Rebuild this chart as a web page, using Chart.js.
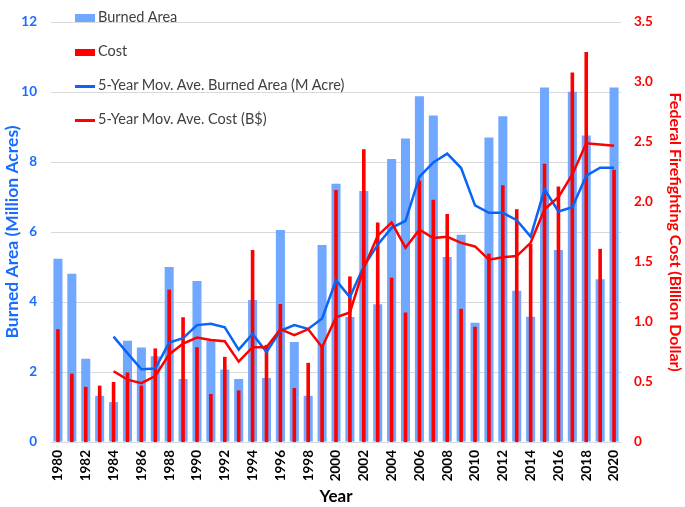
<!DOCTYPE html>
<html lang="en">
<head>
    <meta charset="UTF-8">
    <title>Burned Area and Federal Firefighting Cost</title>
    <style>
        body {
            margin: 0;
            padding: 0;
            background: white;
            font-family: Lato, "Open Sans", sans-serif;
        }

        .wrap {
            position: relative;
            width: 685px;
            height: 507px;
        }

        #legend {
            position: absolute;
            left: 75px;
            top: 0;
            color: #404040;
            font-size: 14.5px;
        }

        .item {
            position: absolute;
            left: 0;
            white-space: nowrap;
            height: 20px;
            line-height: 20px;
        }

        .swatch {
            display: inline-block;
            width: 20px;
            vertical-align: middle;
            margin-right: 3px;
        }
    </style>
</head>
<body>
    <div class="wrap">
        <canvas id="fireChart" width="685" height="507"></canvas>
        <div id="legend">
            <div class="item" style="top:7px"><span class="swatch" style="height:8px;background:#70a8ff"></span>Burned Area</div>
            <div class="item" style="top:41px"><span class="swatch" style="height:7px;background:#ff0000"></span>Cost</div>
            <div class="item" style="top:75px"><span class="swatch" style="height:2.5px;background:#0a64f5"></span>5-Year Mov. Ave. Burned Area (M Acre)</div>
            <div class="item" style="top:109px"><span class="swatch" style="height:2.5px;background:#ff0000"></span>5-Year Mov. Ave. Cost (B$)</div>
        </div>
    </div>

    <script src="https://cdn.jsdelivr.net/npm/chart.js"></script>
    <script>
        // anos 1980-2020
        const years = [];
        for (let y = 1980; y <= 2020; y++) years.push(String(y));

        // area queimada (milhoes de acres)
        const burnedArea = [
            5.24, 4.81, 2.38, 1.32, 1.14, 2.89, 2.70, 2.45, 5.00, 1.80,
            4.60, 2.90, 2.07, 1.80, 4.06, 1.83, 6.06, 2.86, 1.32, 5.63,
            7.38, 3.57, 7.17, 3.94, 8.09, 8.67, 9.88, 9.33, 5.29, 5.92,
            3.41, 8.70, 9.31, 4.32, 3.58, 10.13, 5.49, 10.01, 8.76, 4.65,
            10.13
        ];

        // custo (bilhoes de dolares)
        const cost = [
            0.94, 0.57, 0.46, 0.47, 0.50, 0.58, 0.47, 0.78, 1.27, 1.04,
            0.79, 0.40, 0.71, 0.43, 1.60, 0.81, 1.15, 0.45, 0.66, 0.80,
            2.10, 1.38, 2.44, 1.83, 1.37, 1.08, 2.18, 2.02, 1.90, 1.11,
            0.96, 1.57, 2.14, 1.94, 1.65, 2.32, 2.13, 3.08, 3.25, 1.61,
            2.27
        ];

        // media movel 5 anos
        const maBurned = [
            null, null, null, null, 3.01, 2.54, 2.08, 2.10, 2.84, 2.97,
            3.34, 3.38, 3.28, 2.64, 3.09, 2.57, 3.18, 3.34, 3.23, 3.53,
            4.62, 4.14, 5.02, 5.64, 6.12, 6.32, 7.58, 7.99, 8.24, 7.83,
            6.76, 6.55, 6.55, 6.34, 5.87, 7.22, 6.59, 6.71, 7.61, 7.84,
            7.84
        ];

        const maCost = [
            null, null, null, null, 0.59, 0.52, 0.49, 0.55, 0.73, 0.82,
            0.87, 0.85, 0.84, 0.67, 0.79, 0.79, 0.94, 0.89, 0.94, 0.79,
            1.04, 1.08, 1.45, 1.72, 1.83, 1.62, 1.77, 1.70, 1.71, 1.66,
            1.63, 1.52, 1.54, 1.55, 1.66, 1.94, 2.04, 2.23, 2.49, 2.48,
            2.47
        ];

        const blueTick = '#1a6cff';
        const redTick = '#ff0000';

        const ctx = document.getElementById('fireChart').getContext('2d');

        new Chart(ctx, {
            type: 'bar',
            data: {
                labels: years,
                datasets: [
                    {
                        label: '5-Year Mov. Ave. Cost (B$)',
                        type: 'line',
                        data: maCost,
                        yAxisID: 'y1',
                        borderColor: '#ff0000',
                        borderWidth: 2.5,
                        pointRadius: 0,
                        tension: 0,
                        order: 0
                    },
                    {
                        label: '5-Year Mov. Ave. Burned Area (M Acre)',
                        type: 'line',
                        data: maBurned,
                        yAxisID: 'y',
                        borderColor: '#0a64f5',
                        borderWidth: 2.5,
                        pointRadius: 0,
                        tension: 0,
                        order: 1
                    },
                    {
                        label: 'Cost',
                        data: cost,
                        yAxisID: 'y1',
                        backgroundColor: '#ff0000',
                        barPercentage: 0.26,
                        categoryPercentage: 1,
                        grouped: false,
                        order: 2
                    },
                    {
                        label: 'Burned Area',
                        data: burnedArea,
                        yAxisID: 'y',
                        backgroundColor: '#70a8ff',
                        barPercentage: 0.65,
                        categoryPercentage: 1,
                        grouped: false,
                        order: 3
                    }
                ]
            },
            options: {
                responsive: false,
                animation: false,
                layout: {
                    padding: { top: 6, left: 0, right: 0, bottom: 0 }
                },
                plugins: {
                    legend: { display: false },
                    tooltip: { enabled: false }
                },
                scales: {
                    x: {
                        grid: { display: false, drawTicks: false },
                        border: { display: false },
                        ticks: {
                            autoSkip: false,
                            maxRotation: 90,
                            minRotation: 90,
                            padding: 8,
                            color: '#000000',
                            font: { family: 'Lato', size: 13.5, weight: 'bold' },
                            callback: function (value, index) {
                                return index % 2 === 0 ? years[index] : '';
                            }
                        },
                        title: {
                            display: true,
                            text: 'Year',
                            color: '#000000',
                            font: { family: 'Lato', size: 17, weight: 'bold' },
                            padding: { top: 0, bottom: 0 }
                        },
                        afterFit: function (scale) {
                            scale.height = 65;
                        }
                    },
                    y: {
                        position: 'left',
                        min: 0,
                        max: 12,
                        grid: { color: '#d9d9d9', drawTicks: false },
                        border: { display: false },
                        ticks: {
                            stepSize: 2,
                            padding: 14,
                            color: blueTick,
                            font: { family: 'Lato', size: 13.5, weight: 'bold' }
                        },
                        title: {
                            display: true,
                            text: 'Burned Area (Million Acres)',
                            color: blueTick,
                            font: { family: 'Lato', size: 17.5, weight: 'bold' },
                            padding: { top: 2, bottom: 0 }
                        },
                        afterFit: function (scale) {
                            scale.width = 51;
                        }
                    },
                    y1: {
                        position: 'right',
                        min: 0,
                        max: 3.5,
                        grid: { display: false, drawTicks: false },
                        border: { display: false },
                        ticks: {
                            stepSize: 0.5,
                            padding: 13,
                            color: redTick,
                            font: { family: 'Lato', size: 13.5, weight: 'bold' }
                        },
                        title: {
                            display: true,
                            text: 'Federal Firefighting Cost (Billion Dollar)',
                            color: redTick,
                            font: { family: 'Lato', size: 16, weight: 'bold' },
                            padding: { top: 0, bottom: 0 }
                        },
                        afterFit: function (scale) {
                            scale.width = 64;
                        }
                    }
                }
            }
        });
    </script>
</body>
</html>
